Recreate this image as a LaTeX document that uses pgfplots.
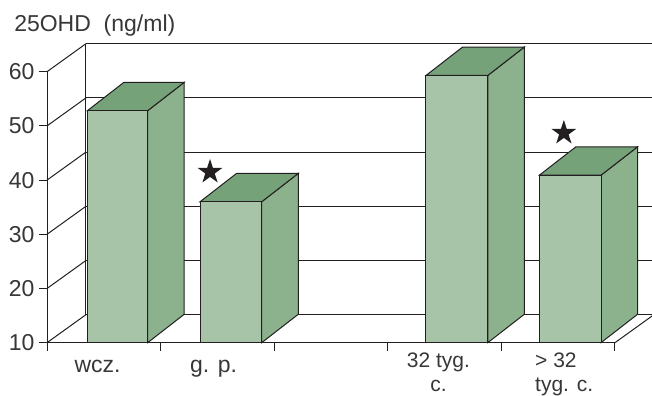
\documentclass[border=0pt]{standalone}
\usepackage{pgfplots}
\pgfplotsset{compat=1.18}
\usepackage{fontspec}
\setmainfont{Liberation Sans}
\definecolor{frontc}{RGB}{168,196,168}
\definecolor{sidec}{RGB}{139,177,141}
\definecolor{topc}{RGB}{118,162,121}
\definecolor{ln}{RGB}{35,31,32}
\definecolor{txt}{RGB}{55,55,55}
\pgfdeclareplotmark{fstar}{%
  \pgfpathmoveto{\pgfpointpolar{90}{\pgfplotmarksize}}%
  \pgfpathlineto{\pgfpointpolar{126}{0.382\pgfplotmarksize}}%
  \pgfpathlineto{\pgfpointpolar{162}{\pgfplotmarksize}}%
  \pgfpathlineto{\pgfpointpolar{198}{0.382\pgfplotmarksize}}%
  \pgfpathlineto{\pgfpointpolar{234}{\pgfplotmarksize}}%
  \pgfpathlineto{\pgfpointpolar{270}{0.382\pgfplotmarksize}}%
  \pgfpathlineto{\pgfpointpolar{306}{\pgfplotmarksize}}%
  \pgfpathlineto{\pgfpointpolar{342}{0.382\pgfplotmarksize}}%
  \pgfpathlineto{\pgfpointpolar{18}{\pgfplotmarksize}}%
  \pgfpathlineto{\pgfpointpolar{54}{0.382\pgfplotmarksize}}%
  \pgfpathclose
  \pgfusepathqfill
}
\newcommand\lbl{\fontsize{23}{25}\selectfont\color{txt}}
\newcommand\lbltwo{\fontsize{21}{23.5}\selectfont\color{txt}}
\begin{document}
\begin{tikzpicture}
\begin{axis}[
  x=113.6pt, y=5.42pt,
  xmin=0, xmax=5, ymin=10, ymax=60,
  clip=false,
  axis lines*=left,
  axis line style={ln, line width=1pt},
  ytick={10,20,30,40,50,60},
  xtick={0,1,2,3,4,5},
  xticklabels={},
  tick align=outside,
  major tick length=8pt,
  tick style={ln, line width=1pt},
  yticklabel style={font=\lbl, xshift=-1pt},
  /pgf/number format/assume math mode=true,
]
% back wall grid lines
\addplot[ln, line width=1pt] coordinates {(0.343,15.17) (5.343,15.17)};
\addplot[ln, line width=1pt] coordinates {(0.343,25.17) (5.343,25.17)};
\addplot[ln, line width=1pt] coordinates {(0.343,35.17) (5.343,35.17)};
\addplot[ln, line width=1pt] coordinates {(0.343,45.17) (5.343,45.17)};
\addplot[ln, line width=1pt] coordinates {(0.343,55.17) (5.343,55.17)};
\addplot[ln, line width=1pt] coordinates {(0.343,65.17) (5.343,65.17)};
% back wall vertical edge
\addplot[ln, line width=1pt] coordinates {(0.343,15.17) (0.343,65.17)};
% left wall diagonals
\addplot[ln, line width=1pt] coordinates {(0,10) (0.343,15.17)};
\addplot[ln, line width=1pt] coordinates {(0,20) (0.343,25.17)};
\addplot[ln, line width=1pt] coordinates {(0,30) (0.343,35.17)};
\addplot[ln, line width=1pt] coordinates {(0,40) (0.343,45.17)};
\addplot[ln, line width=1pt] coordinates {(0,50) (0.343,55.17)};
\addplot[ln, line width=1pt] coordinates {(0,60) (0.343,65.17)};
% right floor edge
\addplot[ln, line width=1pt] coordinates {(5,10) (5.343,15.17)};

% bar 1: wcz. = 52.8
\addplot[fill=sidec, draw=ln, line width=1pt] coordinates {(0.886,10) (1.208,15.24) (1.208,58.04) (0.886,52.8)} --cycle;
\addplot[fill=topc, draw=ln, line width=1pt] coordinates {(0.355,52.8) (0.886,52.8) (1.208,58.04) (0.677,58.04)} --cycle;
\addplot[fill=frontc, draw=ln, line width=1pt] coordinates {(0.355,10) (0.886,10) (0.886,52.8) (0.355,52.8)} --cycle;
% bar 2: g. p. = 36.0
\addplot[fill=sidec, draw=ln, line width=1pt] coordinates {(1.890,10) (2.212,15.24) (2.212,41.24) (1.890,36)} --cycle;
\addplot[fill=topc, draw=ln, line width=1pt] coordinates {(1.347,36) (1.890,36) (2.212,41.24) (1.669,41.24)} --cycle;
\addplot[fill=frontc, draw=ln, line width=1pt] coordinates {(1.347,10) (1.890,10) (1.890,36) (1.347,36)} --cycle;
% bar 3: 32 tyg. c. = 59.3
\addplot[fill=sidec, draw=ln, line width=1pt] coordinates {(3.880,10) (4.202,15.24) (4.202,64.54) (3.880,59.3)} --cycle;
\addplot[fill=topc, draw=ln, line width=1pt] coordinates {(3.336,59.3) (3.880,59.3) (4.202,64.54) (3.658,64.54)} --cycle;
\addplot[fill=frontc, draw=ln, line width=1pt] coordinates {(3.336,10) (3.880,10) (3.880,59.3) (3.336,59.3)} --cycle;
% bar 4: > 32 tyg. c. = 40.9
\addplot[fill=sidec, draw=ln, line width=1pt] coordinates {(4.877,10) (5.199,15.24) (5.199,46.14) (4.877,40.9)} --cycle;
\addplot[fill=topc, draw=ln, line width=1pt] coordinates {(4.334,40.9) (4.877,40.9) (5.199,46.14) (4.656,46.14)} --cycle;
\addplot[fill=frontc, draw=ln, line width=1pt] coordinates {(4.334,10) (4.877,10) (4.877,40.9) (4.334,40.9)} --cycle;

% significance stars
\addplot[only marks, mark=fstar, mark size=13pt, ln, fill=ln] coordinates {(1.435,41.5) (4.55,48.7)};

% labels
\node[anchor=base west, inner sep=0pt, font=\lbl] at (axis cs:-0.29,67.38) {25OHD\ \ (ng/ml)};
\node[anchor=base, inner sep=0pt, font=\lbl] at (axis cs:0.445,4.5) {wcz.};
\node[anchor=base, inner sep=0pt, font=\lbl] at (axis cs:1.466,4.5) {g. p.};
\node[anchor=north, inner sep=0pt, align=center, font=\lbltwo] at (axis cs:3.446,8.1) {32 tyg.\\c.};
\node[anchor=north west, inner sep=0pt, align=left, font=\lbltwo] at (axis cs:4.296,8.1) {>\ 32\\tyg. c.};

\coordinate (bbl) at (axis cs:-0.414,0.17);
\coordinate (btr) at (axis cs:5.326,73.23);
\end{axis}
\pgfresetboundingbox
\path[use as bounding box] (bbl) rectangle (btr);
\end{tikzpicture}
\end{document}
